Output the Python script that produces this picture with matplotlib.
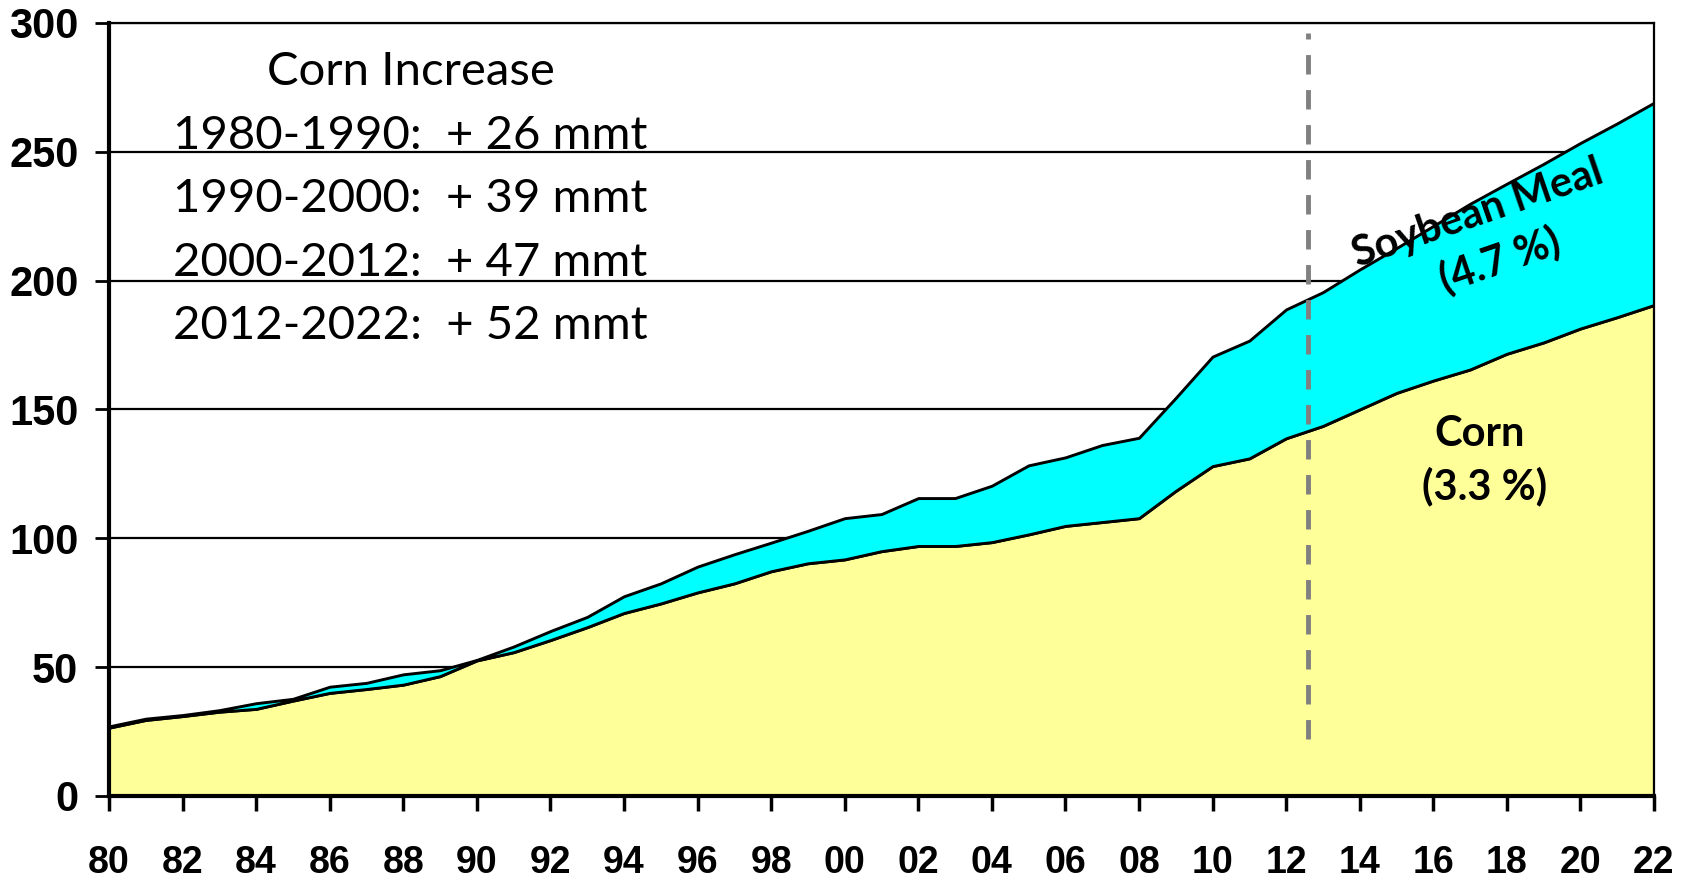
"""Corn and soybean meal use, stacked area chart.
"""
import matplotlib
matplotlib.use('agg')
import matplotlib.pyplot as plt

years = list(range(1980, 2023))

corn = [26.5, 29.5, 31.0, 32.7, 33.8, 37.0, 40.0, 41.5, 43.2, 46.5,
        52.6, 55.8, 60.5, 65.5, 71.0, 74.7, 79.0, 82.5, 87.2, 90.3,
        91.8, 95.0, 97.0, 97.0, 98.5, 101.5, 104.8, 106.3, 107.8, 118.4,
        128.0, 131.0, 138.8, 143.6, 150.0, 156.4, 161.2, 165.5, 171.6, 176.0,
        181.4, 185.8, 190.5]

total = [27.0, 30.0, 31.4, 33.3, 36.0, 37.7, 42.4, 43.9, 47.2, 48.8,
         52.8, 58.0, 64.0, 69.5, 77.5, 82.5, 89.0, 93.8, 98.3, 102.9,
         107.8, 109.4, 115.6, 115.6, 120.4, 128.3, 131.4, 136.2, 139.0, 154.5,
         170.5, 176.7, 188.8, 195.5, 204.3, 212.6, 221.2, 229.8, 237.6, 245.3,
         253.4, 261.0, 269.0]

soy_meal = [round(t - c, 1) for t, c in zip(total, corn)]

tick_years = list(range(1980, 2023, 2))
tick_labels = ['%02d' % (y % 100) for y in tick_years]
y_ticks = [0, 50, 100, 150, 200, 250, 300]

increase_title = 'Corn Increase'
increase_lines = [
    '1980-1990:  + 26 mmt',
    '1990-2000:  + 39 mmt',
    '2000-2012:  + 47 mmt',
    '2012-2022:  + 52 mmt',
]
forecast_split = 2012.6


def main():
    fig = plt.figure(figsize=(16.92, 8.8), dpi=100)
    ax = fig.add_axes([0.0644, 0.0955, 0.9131, 0.8785])

    # horizontal grid lines behind the areas
    for v in y_ticks[1:]:
        ax.axhline(v, color='black', lw=1.6, zorder=0)

    ax.stackplot(years, corn, soy_meal,
                 colors=['#FFFF99', '#00FFFF'],
                 edgecolor='black', linewidth=2.1, zorder=2)

    ax.plot([forecast_split, forecast_split], [22, 296],
            color='#808080', lw=3.5, dashes=(4, 3.2), zorder=3)

    ax.set_xlim(1980, 2022)
    ax.set_ylim(0, 300)
    ax.set_xticks(tick_years)
    ax.set_xticklabels(tick_labels)
    ax.set_yticks(y_ticks)

    for lab in ax.get_xticklabels() + ax.get_yticklabels():
        lab.set_fontfamily(['Liberation Sans', 'DejaVu Sans'])
        lab.set_fontweight('bold')
    for lab in ax.get_xticklabels():
        lab.set_fontsize(27)
    for lab in ax.get_yticklabels():
        lab.set_fontsize(30)

    ax.tick_params(axis='x', direction='out', length=11, width=2.5, pad=24)
    ax.tick_params(axis='y', direction='out', length=10, width=2.0, pad=12)

    ax.spines['left'].set_linewidth(3)
    ax.spines['bottom'].set_linewidth(3)
    ax.spines['top'].set_linewidth(1.6)
    ax.spines['right'].set_linewidth(1.6)
    for s in ax.spines.values():
        s.set_zorder(4)

    txt = dict(family=['Lato', 'DejaVu Sans'], color='black', zorder=5)
    ax.text(1988.2, 281, increase_title, fontsize=34, ha='center', va='center', **txt)
    for i, line in enumerate(increase_lines):
        ax.text(1981.74, 256.2 - i * 24.6, line, fontsize=34, ha='left', va='center', **txt)

    ax.text(2017.2, 226, 'Soybean Meal', fontsize=30, fontweight='bold',
            rotation=19, ha='center', va='center', **txt)
    ax.text(2017.8, 208, '(4.7 %)', fontsize=30, fontweight='bold',
            rotation=19, ha='center', va='center', **txt)
    ax.text(2017.27, 140.3, 'Corn', fontsize=30, fontweight='bold',
            ha='center', va='center', **txt)
    ax.text(2017.4, 120.2, '(3.3 %)', fontsize=30, fontweight='bold',
            ha='center', va='center', **txt)

    fig.savefig('out.png', dpi=100)


if __name__ == '__main__':
    main()
